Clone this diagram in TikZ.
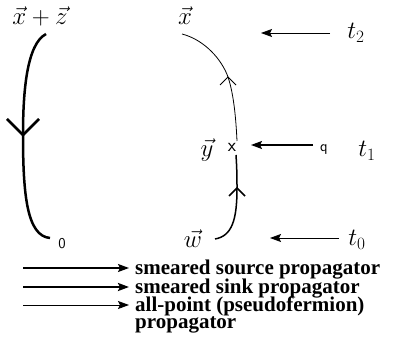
\documentclass[tikz,border=0pt]{standalone}
\usepackage{fontspec}
\newfontfamily\legendfont{Liberation Serif}
\usetikzlibrary{positioning,arrows.meta}

\begin{document}
\begin{tikzpicture}[x=1pt, y=-1pt,
    lab/.style={inner sep=0pt, font=\fontsize{24}{26}\selectfont},
    small/.style={inner sep=0pt, font=\sffamily\fontsize{15}{16}\selectfont},
    leg/.style={inner sep=0pt, anchor=base west, align=left,
              font=\legendfont\bfseries\fontsize{21}{17}\selectfont},
    src/.style={line width=1.5pt},
    snk/.style={line width=2.6pt},
    allp/.style={line width=0.8pt},
    tm/.style={-{Stealth[length=11pt, width=8pt, inset=2pt]}}
]
    \useasboundingbox (0,0) rectangle (393,358);

    % left propagator
    \node[lab] (xz) at (40,16) {$\vec{x}+\vec{z}$};
    \node[small] (zero) at (62,244) {0};
    \coordinate (l0) at (46,34);
    \coordinate (l1) at (23,135);
    \coordinate (l2) at (50,238);
    \draw[line width=2.5pt] (l0) .. controls (27,44) and (23,90) .. (l1)
        .. controls (23,195) and (27,236) .. (l2);
    \draw[line width=2.5pt] (l1) ++(-16,-16) -- (l1) -- ++(16,-16);

    % middle propagator
    \node[lab] (x) at (185,16) {$\vec{x}$};
    \node[lab] (y) at (207,150) {$\vec{y}$};
    \node[lab] (w) at (193,239) {$\vec{w}$};
    \coordinate (m0) at (182,34);
    \coordinate (ma) at (228,77);
    \coordinate (m1) at (232,147);
    \coordinate (mb) at (237,188);
    \coordinate (m2) at (215,239);
    \draw[allp] (m0) .. controls (205,40) and (222,60) .. (ma)
        .. controls (234,95) and (236,120) .. (237,141);
    \draw[allp] (ma) ++(-8,8) -- (ma) -- ++(8,8);
    \node[small, font=\sffamily\fontsize{19}{20}\selectfont] (cross) at (m1) {x};
    \draw[src] (236,155) .. controls (237,170) and (237,180) .. (mb)
        .. controls (237,220) and (232,236) .. (m2);
    \draw[src] (mb) ++(-8,8) -- (mb) -- ++(8,8);

    % time slices
    \node[lab] (t2) at (356,33) {$t_2$};
    \node[lab] (t1) at (367,151) {$t_1$};
    \node[lab] (t0) at (357,240) {$t_0$};
    \node[small] (q) at (324,150) {q};
    \coordinate (a2) at (330,33);
    \coordinate (a1) at (313,145);
    \coordinate (a0) at (339,238);
    \draw[tm, allp] (a2) -- (261,33);
    \draw[tm, line width=1.8pt] (a1) -- (251,145);
    \draw[tm, allp] (a0) -- (270,238);

    % legend
    \coordinate (k1) at (23,268);
    \coordinate (k2) at (23,287);
    \coordinate (k3) at (23,305);
    \node[leg] (s1) at (135,274) {smeared source propagator};
    \node[leg] (s2) at (135,293) {smeared sink propagator};
    \node[leg, anchor=north west] (s3) at (135,297) {all-point (pseudofermion)\\propagator};
    \draw[tm, src] (k1) -- ([xshift=-6pt]s1.west |- k1);
    \draw[tm, snk] (k2) -- ([xshift=-6pt]s2.west |- k2);
    \draw[tm, allp] (k3) -- ([xshift=-6pt]s3.west |- k3);
\end{tikzpicture}
\end{document}
